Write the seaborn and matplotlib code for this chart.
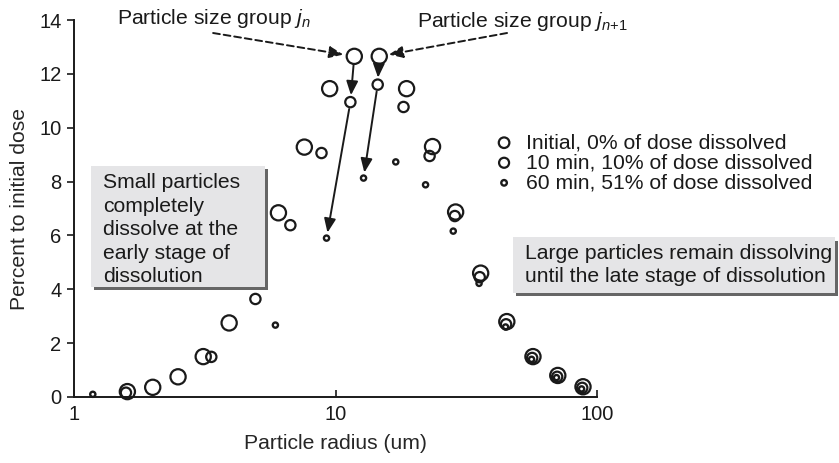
import numpy as np
import pandas as pd
import seaborn as sns
import matplotlib
matplotlib.use("Agg")
import matplotlib.pyplot as plt
from matplotlib.patches import Rectangle
from matplotlib import transforms

# Particle size distribution at three dissolution times
initial_radius = [1.6, 2.0, 2.5, 3.12, 3.92, 6.05, 7.6, 9.5, 11.8, 14.7, 18.7, 23.5, 28.8, 35.9, 45.2, 56.9, 70.8, 88.4]
initial_pct = [0.2, 0.36, 0.75, 1.5, 2.75, 6.84, 9.28, 11.45, 12.65, 12.65, 11.45, 9.3, 6.87, 4.6, 2.8, 1.5, 0.8, 0.38]

min10_radius = [1.58, 3.35, 4.94, 6.72, 8.84, 11.4, 14.5, 18.2, 22.9, 28.6, 35.6, 44.9, 56.5, 70.4, 87.8]
min10_pct = [0.16, 1.49, 3.64, 6.38, 9.06, 10.95, 11.6, 10.77, 8.95, 6.72, 4.45, 2.7, 1.45, 0.75, 0.34]

min60_radius = [1.18, 5.89, 9.24, 12.8, 17.0, 22.1, 28.2, 35.4, 44.7, 56.2, 70.0, 87.3]
min60_pct = [0.1, 2.67, 5.9, 8.13, 8.73, 7.88, 6.16, 4.22, 2.6, 1.4, 0.72, 0.3]

series_labels = ["Initial, 0% of dose dissolved",
                 "10 min, 10% of dose dissolved",
                 "60 min, 51% of dose dissolved"]

x_ticks = [1, 10, 100]
x_tick_labels = ["1", "10", "100"]
y_ticks = [0, 2, 4, 6, 8, 10, 12, 14]

sns.set_style("ticks")
plt.rcParams["font.family"] = ["Liberation Sans", "DejaVu Sans"]
plt.rcParams["mathtext.fontset"] = "custom"
plt.rcParams["mathtext.rm"] = "Liberation Sans"
plt.rcParams["mathtext.it"] = "Liberation Sans:italic"
plt.rcParams["text.color"] = "#1a1a1a"
FS = 15.2
TICK_FS = 14.5
INK = "#1a1a1a"

fig = plt.figure(figsize=(8.39, 4.63), dpi=100)
ax = fig.add_axes([74 / 839, 1 - 397 / 463, 523 / 839, 377 / 463])

frames = [
    pd.DataFrame({"radius": initial_radius, "pct": initial_pct}),
    pd.DataFrame({"radius": min10_radius, "pct": min10_pct}),
    pd.DataFrame({"radius": min60_radius, "pct": min60_pct}),
]
sizes = [120, 55, 14]
widths = [1.6, 1.6, 1.7]
for df, s, lw, lab in zip(frames, sizes, widths, series_labels):
    sns.scatterplot(data=df, x="radius", y="pct", ax=ax, s=s, marker="o",
                    facecolors="none", edgecolor=INK, linewidth=lw,
                    label=lab, clip_on=False, zorder=3)

ax.set_xscale("log")
ax.set_xlim(1, 100)
ax.set_ylim(0, 14)
ax.set_xticks(x_ticks)
ax.set_xticklabels(x_tick_labels)
ax.xaxis.set_minor_locator(matplotlib.ticker.NullLocator())
ax.set_yticks(y_ticks)
ax.tick_params(axis="x", direction="in", length=5, width=1.2, labelsize=TICK_FS, pad=6, colors=INK)
ax.tick_params(axis="y", direction="out", length=5, width=1.2, labelsize=TICK_FS, pad=4, colors=INK)
sns.despine(ax=ax)
for sp in ("left", "bottom"):
    ax.spines[sp].set_linewidth(1.4)
    ax.spines[sp].set_color(INK)
ax.set_xlabel("Particle radius (um)", fontsize=FS, labelpad=7)
ax.set_ylabel("Percent to initial dose", fontsize=FS, labelpad=7)

leg = ax.legend(loc="upper left", bbox_to_anchor=(0.786, 0.722), frameon=False,
                fontsize=FS, handletextpad=0.55, labelspacing=0.05,
                borderaxespad=0, handlelength=1.0)
for h, s in zip(leg.legend_handles, [58, 52, 16]):
    h.set_sizes([s])

# Shaded note boxes with a drop shadow
def note_box(x0, y0, x1, y1):
    shadow_tr = transforms.offset_copy(ax.transAxes, fig=fig, x=2.5, y=-2.5, units="points")
    ax.add_patch(Rectangle((x0, y0), x1 - x0, y1 - y0, transform=shadow_tr,
                           facecolor="#666666", edgecolor="none", clip_on=False, zorder=4))
    ax.add_patch(Rectangle((x0, y0), x1 - x0, y1 - y0, transform=ax.transAxes,
                           facecolor="#e5e5e7", edgecolor="none", clip_on=False, zorder=5))

note_box(0.0325, 0.292, 0.365, 0.613)
ax.text(0.0555, 0.593, "Small particles\ncompletely\ndissolve at the\nearly stage of\ndissolution",
        transform=ax.transAxes, fontsize=FS, va="top", ha="left", linespacing=1.3, zorder=6)

note_box(0.839, 0.276, 1.455, 0.424)
ax.text(0.862, 0.350, "Large particles remain dissolving\nuntil the late stage of dissolution",
        transform=ax.transAxes, fontsize=FS, va="center", ha="left", linespacing=1.3, zorder=6)

# Group labels with dashed pointers
ax.text(0.082, 1.005, r"Particle size group $j_n$", transform=ax.transAxes,
        fontsize=FS, ha="left", va="center")
ax.text(0.655, 0.995, r"Particle size group $j_{n\mathrm{+1}}$", transform=ax.transAxes,
        fontsize=FS, ha="left", va="center")

dash_props = dict(arrowstyle="-|>,head_length=0.6,head_width=0.25", color=INK, lw=1.4,
                  linestyle=(0, (3.5, 2)), shrinkA=0, mutation_scale=14)
ax.annotate("", xy=(initial_radius[8], initial_pct[8]), xytext=(0.266, 0.9655),
            textcoords="axes fraction", arrowprops=dict(dash_props, shrinkB=8), zorder=6)
ax.annotate("", xy=(initial_radius[9], initial_pct[9]), xytext=(0.828, 0.9655),
            textcoords="axes fraction", arrowprops=dict(dash_props, shrinkB=7), zorder=6)

# Solid arrows following each group as it dissolves
solid = dict(arrowstyle="-|>,head_length=0.6,head_width=0.25", color=INK, lw=1.4,
             mutation_scale=14)
paths = [
    ((initial_radius[8], initial_pct[8]), (min10_radius[5], min10_pct[5]), 6, 5),
    ((min10_radius[5], min10_pct[5]), (min60_radius[2], min60_pct[2]), 5, 4),
    ((initial_radius[9], initial_pct[9]), (min10_radius[6], min10_pct[6]), 6, 5),
    ((min10_radius[6], min10_pct[6]), (min60_radius[3], min60_pct[3]), 5, 4),
]
for start, end, sa, sb in paths:
    ax.annotate("", xy=end, xytext=start, arrowprops=dict(solid, shrinkA=sa, shrinkB=sb), zorder=6)

fig.savefig("out.png", dpi=100)
